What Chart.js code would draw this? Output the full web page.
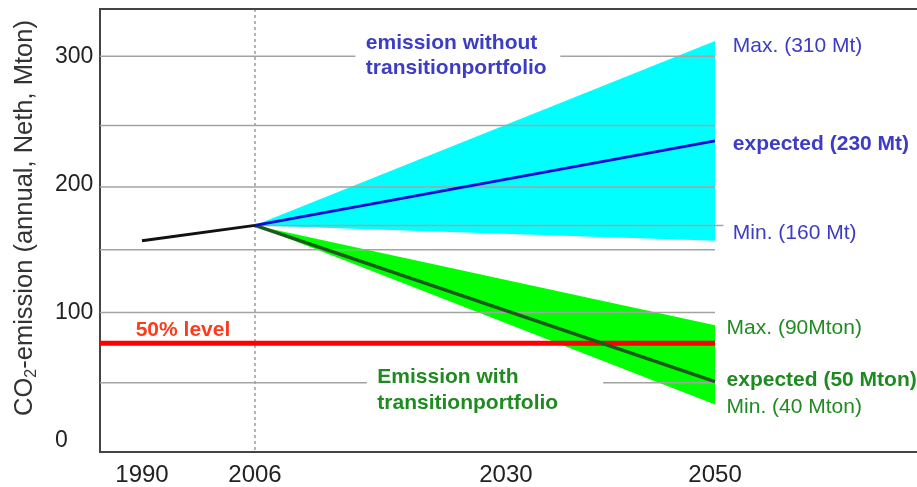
<!DOCTYPE html>
<html>
<head>
<meta charset="utf-8">
<script src="https://cdn.jsdelivr.net/npm/chart.js@4/dist/chart.umd.min.js"></script>
<style>
  html, body { margin: 0; padding: 0; background: #fff; }
  #wrap { width: 917px; height: 487px; position: relative; }
</style>
</head>
<body>
<div id="wrap"><canvas id="mycanvas"></canvas></div>
<script>
// ---- data (years, Mton CO2) ----
var histYears = [1990, 2006];
var histValues = [156, 168];

var fanYears = [2006, 2050];
var noTransMax = [168, 312];
var noTransExpected = [168, 234];
var noTransMin = [168, 156];

var transMax = [168, 90];
var transExpected = [168, 46];
var transMin = [168, 28];

var halfLevel = 76;           // 50% level
var halfYears = [1984, 2050];

var xTicks = [1990, 2006, 2030, 2050];
var yTicks = [0, 100, 200, 300];

// reference lines: [value, from year, to year]
var guideLines = [
	[300, 1984, 2015.6], [300, 2035.2, 2050],
	[246, 1984, 2050],
	[198, 1984, 2050],
	[168, 2006, 2050.8],
	[149, 1984, 2050],
	[100, 1984, 2050],
	[45, 1984, 2016.7], [45, 2039.3, 2050]
];

// text notes: text, year, value
var notes = [
	["emission without", 2016.6, 310.4, "blueB"],
	["transitionportfolio", 2016.6, 290.9, "blueB"],
	["Max. (310 Mt)", 2051.7, 308, "blue"],
	["expected (230 Mt)", 2051.7, 231.6, "blueB"],
	["Min. (160 Mt)", 2051.7, 162, "blue"],
	["Max. (90Mton)", 2051.1, 87.8, "green"],
	["expected (50 Mton)", 2051.1, 47.2, "greenB"],
	["Min. (40 Mton)", 2051.1, 26.1, "green"],
	["Emission with", 2017.7, 49.6, "greenB"],
	["transitionportfolio", 2017.7, 29.3, "greenB"],
	["50% level", 1989.1, 86.3, "redB"]
];

var FONT = "'Liberation Sans', Arial, sans-serif";
var noteStyle = {
	blue: ["", "#3c3cc4"], blueB: ["bold ", "#3c3cc4"],
	green: ["", "#228a22"], greenB: ["bold ", "#1f8a1f"],
	redB: ["bold ", "#ff3a1a"]
};

// the drawing is schematic: 1990-2006 is squeezed compared to 2006-2050
var knotYears = [1984, 1990, 2006, 2050, 2069.3];
var knotFrac = [0, 0.0514, 0.1897, 0.7528, 1];

class BrokenScale extends Chart.LinearScale {
	getPixelForValue(value) {
		var i = 0;
		while (i < knotYears.length - 2 && value > knotYears[i + 1]) i++;
		var f = knotFrac[i] + (value - knotYears[i]) / (knotYears[i + 1] - knotYears[i]) * (knotFrac[i + 1] - knotFrac[i]);
		return this.getPixelForDecimal(f);
	}
	getValueForPixel(pixel) {
		var d = this.getDecimalForPixel(pixel);
		var i = 0;
		while (i < knotFrac.length - 2 && d > knotFrac[i + 1]) i++;
		return knotYears[i] + (d - knotFrac[i]) / (knotFrac[i + 1] - knotFrac[i]) * (knotYears[i + 1] - knotYears[i]);
	}
}
BrokenScale.id = 'broken';
BrokenScale.defaults = Chart.LinearScale.defaults;
Chart.register(BrokenScale);

function pts(xs, ys) {
	return xs.map(function(x, i) { return {x: x, y: ys[i]}; });
}
function line(data, color, width, order) {
	return {data: data, borderColor: color, borderWidth: width, pointRadius: 0, fill: false, order: order};
}

var datasets = [
	// cyan fan (without transition portfolio)
	{data: pts(fanYears, noTransMax), borderWidth: 0, backgroundColor: '#00ffff', pointRadius: 0, fill: '+1', order: 20},
	{data: pts(fanYears, noTransMin), borderWidth: 0, pointRadius: 0, fill: false, order: 20},
	// green fan (with transition portfolio)
	{data: pts(fanYears, transMax), borderWidth: 0, backgroundColor: '#00ff00', pointRadius: 0, fill: '+1', order: 19},
	{data: pts(fanYears, transMin), borderWidth: 0, pointRadius: 0, fill: false, order: 19}
];
guideLines.forEach(function(g) {
	datasets.push(line([{x: g[1], y: g[0]}, {x: g[2], y: g[0]}], '#a3a3a3', 1.5, 10));
});
datasets.push(line(pts(halfYears, [halfLevel, halfLevel]), '#ff0000', 5, 5));
datasets.push(line(pts(histYears, histValues), '#111111', 3, 1));
datasets.push(line(pts(fanYears, noTransExpected), '#0a0ad8', 3, 1));
datasets.push(line(pts(fanYears, transExpected), '#1d5a1d', 3.5, 1));

var textPlugin = {
	id: 'texts',
	afterDatasetsDraw: function(chart) {
		var ctx = chart.ctx, xs = chart.scales.x, ys = chart.scales.y;
		ctx.save();
		ctx.textBaseline = 'middle';
		ctx.textAlign = 'left';
		notes.forEach(function(n) {
			var st = noteStyle[n[3]];
			ctx.font = st[0] + '21px ' + FONT;
			ctx.fillStyle = st[1];
			ctx.fillText(n[0], xs.getPixelForValue(n[1]), ys.getPixelForValue(n[2]));
		});
		// y axis title with subscript
		ctx.translate(25, 218);
		ctx.rotate(-Math.PI / 2);
		ctx.fillStyle = '#333';
		ctx.font = '25.5px ' + FONT;
		var a = 'CO', c = '-emission (annual, Neth, Mton)';
		var wa = ctx.measureText(a).width, wc = ctx.measureText(c).width;
		ctx.font = '16px ' + FONT;
		var wb = ctx.measureText('2').width;
		var x0 = -(wa + wb + wc) / 2;
		ctx.font = '25.5px ' + FONT;
		ctx.fillText(a, x0, 0);
		ctx.fillText(c, x0 + wa + wb, 0);
		ctx.font = '16px ' + FONT;
		ctx.fillText('2', x0 + wa, 7);
		ctx.restore();
	}
};

var ctx = document.getElementById('mycanvas');

var chart = new Chart(ctx, {
	type: 'line',
	data: {datasets: datasets},
	plugins: [textPlugin],
	options: {
		responsive: true,
		maintainAspectRatio: false,
		animation: false,
		layout: {padding: {left: 55, right: 0, top: 0, bottom: 0}},
		plugins: {legend: {display: false}, tooltip: {enabled: false}},
		elements: {line: {tension: 0}},
		scales: {
			x: {
				type: 'broken',
				position: 'bottom',
				min: knotYears[0],
				max: knotYears[knotYears.length - 1],
				afterBuildTicks: function(s) { s.ticks = xTicks.map(function(v) { return {value: v}; }); },
				afterFit: function(s) { s.height = 35; s.paddingLeft = 0; s.paddingRight = 0; },
				ticks: {
					autoSkip: false, maxRotation: 0, padding: 9,
					color: '#222', font: {family: FONT, size: 24},
					callback: function(v) { return String(v); }
				},
				grid: {
					drawTicks: false,
					lineWidth: 2,
					color: function(c) { return c.tick && c.tick.value === 2006 ? '#b4b4b4' : 'rgba(0,0,0,0)'; }
				},
				border: {display: true, color: '#444', width: 2, dash: [3, 3]}
			},
			x2: {
				type: 'linear',
				position: 'top',
				afterFit: function(s) { s.height = 9; s.paddingLeft = 0; s.paddingRight = 0; },
				ticks: {display: false},
				grid: {display: false, drawTicks: false},
				border: {display: true, color: '#444', width: 2}
			},
			y: {
				type: 'linear',
				position: 'left',
				min: -9,
				max: 337,
				afterBuildTicks: function(s) { s.ticks = yTicks.map(function(v) { return {value: v}; }); },
				afterFit: function(s) { s.width = 45; s.paddingTop = 0; s.paddingBottom = 0; },
				ticks: {
					crossAlign: 'far',
					color: '#222', font: {family: FONT, size: 23},
					callback: function(v) { return String(v); }
				},
				grid: {display: false, drawTicks: false},
				border: {display: true, color: '#444', width: 2}
			}
		}
	}
});
</script>
</body>
</html>
